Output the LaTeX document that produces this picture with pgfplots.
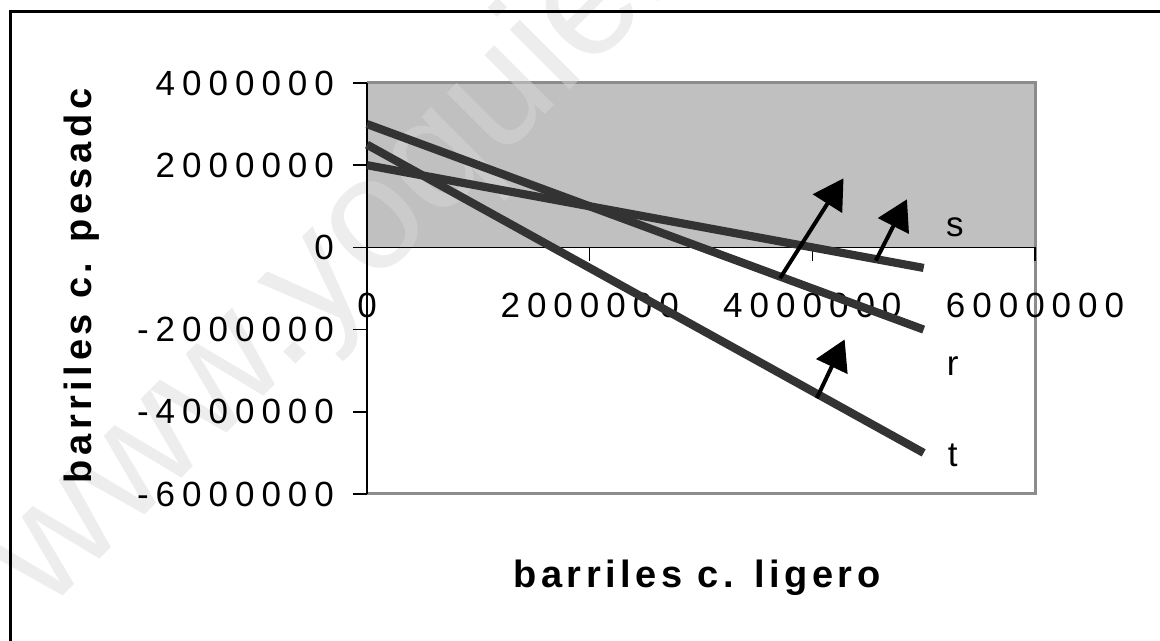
\documentclass[border=0pt]{standalone}
\usepackage{fontspec}
\setmainfont{Liberation Sans}
\newfontfamily\tickfont[LetterSpace=20]{Liberation Sans}
\newfontfamily\labfont[LetterSpace=12]{Liberation Sans}
\usepackage{pgfplots}
\pgfplotsset{compat=1.18}
\usetikzlibrary{arrows.meta}
\definecolor{fillgray}{HTML}{C0C0C0}
\definecolor{linegray}{HTML}{333333}
\definecolor{bordergray}{HTML}{8C8C8C}
\definecolor{wmgray}{gray}{0.85}
\begin{document}
\begin{tikzpicture}
\begin{axis}[
  set layers,
  at={(183.5pt,73.5pt)}, anchor=south west,
  scale only axis, width=334pt, height=205.5pt,
  xmin=0, xmax=6000000, ymin=-6000000, ymax=4000000,
  axis x line=middle, axis y line=left,
  x axis line style={-, black, line width=0.7pt},
  y axis line style={-, black, line width=1.1pt},
  tick align=outside, major tick length=7pt,
  tick style={black, line width=0.8pt},
  hide obscured x ticks=false, hide obscured y ticks=false,
  scaled ticks=false,
  xtick={0,2000000,4000000,6000000},
  xticklabels={0,2000000,4000000,6000000},
  ytick={-6000000,-4000000,-2000000,0,2000000,4000000},
  yticklabels={-6000000,-4000000,-2000000,0,2000000,4000000},
  xticklabel style={font=\tickfont\fontsize{17.5}{20}\selectfont, anchor=center, yshift=-22pt},
  yticklabel style={font=\tickfont\fontsize{17.5}{20}\selectfont, anchor=east, xshift=-6pt},
  xlabel={barriles c. ligero},
  ylabel={barriles c. pesadc},
  every axis x label/.style={at={(axis description cs:0.494,-0.205)}, anchor=center,
     font=\labfont\bfseries\fontsize{19}{22}\selectfont},
  every axis y label/.style={at={(axis description cs:-0.427,0.506)}, anchor=center, rotate=90,
     font=\labfont\bfseries\fontsize{19}{22}\selectfont},
  clip=false,
]
% shaded feasible region
\addplot[on layer=axis background, fill=fillgray, draw=none]
  coordinates {(0,0) (0,4000000) (6000000,4000000) (6000000,0)};
% plot area border
\addplot[on layer=axis background, draw=bordergray, line width=1.5pt]
  coordinates {(0,4000000) (6000000,4000000) (6000000,-6000000) (0,-6000000)};
% watermark
\begin{pgfonlayer}{axis grid}
\node[rotate=45, anchor=base west, inner sep=0pt, text=wmgray, text opacity=0.47,
      font=\fontsize{80}{80}\selectfont] at (rel axis cs:-0.48,-0.29) {www.yoquieroaprobar.es};
\end{pgfonlayer}
% constraint lines
\addplot[linegray, line width=4.1pt] coordinates {(0,2000000) (5000000,-500000)};
\addplot[linegray, line width=4.1pt] coordinates {(0,3000000) (5000000,-2000000)};
\addplot[linegray, line width=4.1pt] coordinates {(0,2500000) (5000000,-5000000)};
% arrows
\addplot[black, line width=2pt, -{Triangle[length=15pt,width=17pt]}]
  coordinates {(3710000,-750000) (4280000,1680000)};
\addplot[black, line width=2pt, -{Triangle[length=15pt,width=17pt]}]
  coordinates {(4570000,-320000) (4850000,1170000)};
\addplot[black, line width=2pt, -{Triangle[length=15pt,width=17pt]}]
  coordinates {(4040000,-3670000) (4290000,-2240000)};
% line names
\node[font=\fontsize{17.5}{20}\selectfont] at (axis cs:5280000,500000) {s};
\node[font=\fontsize{17.5}{20}\selectfont] at (axis cs:5260000,-2900000) {r};
\node[font=\fontsize{17.5}{20}\selectfont] at (axis cs:5260000,-5050000) {t};
\end{axis}
% outer frame (top and left edges)
\draw[line width=1.5pt] (5pt,0pt) -- (5pt,314.5pt) -- (580pt,314.5pt);
\pgfresetboundingbox
\path[use as bounding box] (0,0) rectangle (580pt,320.5pt);
\end{tikzpicture}
\end{document}
